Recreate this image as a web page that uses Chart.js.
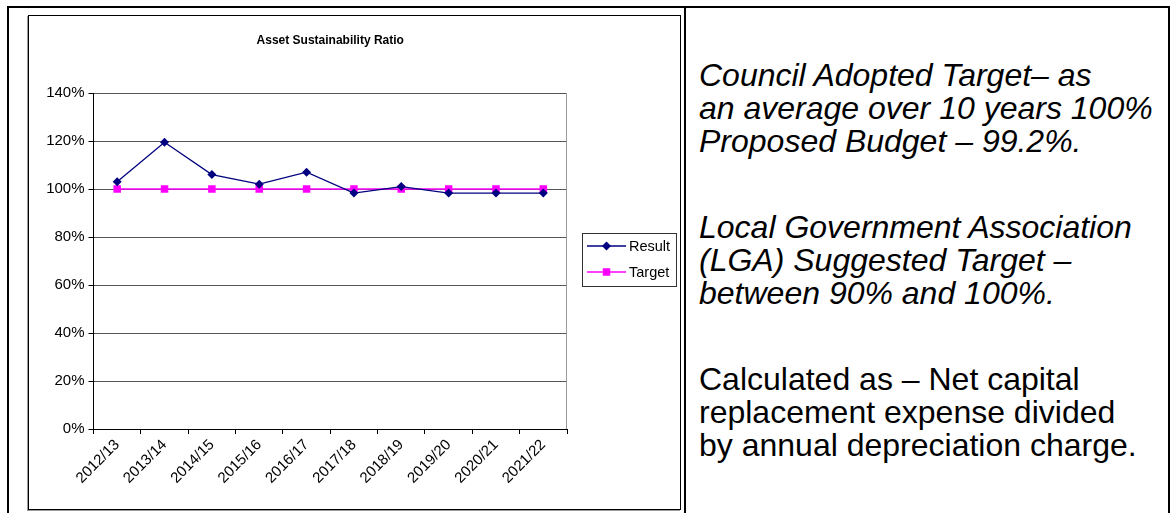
<!DOCTYPE html>
<html><head><meta charset="utf-8">
<script src="https://cdn.jsdelivr.net/npm/chart.js@4/dist/chart.umd.min.js"></script>
<style>
html,body{margin:0;padding:0;background:#fff;width:1171px;height:513px;overflow:hidden;position:relative;font-family:"Liberation Sans",Arial,sans-serif;}
#outer{position:absolute;left:7px;top:6px;width:1159px;height:600px;border:2px solid #000;}
#divider{position:absolute;left:684px;top:6px;width:2px;height:600px;background:#000;}
#box{position:absolute;left:28px;top:15px;width:651px;height:493px;border:1px solid #000;box-shadow:-1px 1px 0 #999;}
#chart{position:absolute;left:0;top:0;}
.p{position:absolute;left:699px;font-size:32px;line-height:33px;color:#000;white-space:nowrap;}
.i{font-style:italic;}
</style></head>
<body>
<div id="outer"></div>
<div id="divider"></div>
<div id="box"><canvas id="chart" width="651" height="493"></canvas></div>
<div class="p i" style="top:59px">Council Adopted Target– as<br>an average over 10 years 100%<br>Proposed Budget – 99.2%.</div>
<div class="p i" style="top:211px">Local Government Association<br>(LGA) Suggested Target –<br>between 90% and 100%.</div>
<div class="p" style="top:363px">Calculated as – Net capital<br>replacement expense divided<br>by annual depreciation charge.</div>
<script>
const categories = ['2012/13','2013/14','2014/15','2015/16','2016/17','2017/18','2018/19','2019/20','2020/21','2021/22'];
const resultValues = [103, 119.5, 106, 102, 107, 98.3, 101, 98.3, 98.3, 98.3];
const targetValues = [100, 100, 100, 100, 100, 100, 100, 100, 100, 100];
const seriesNames = ['Result', 'Target'];
const yTickValues = [0, 20, 40, 60, 80, 100, 120, 140];
const chartTitle = 'Asset Sustainability Ratio';

const FONT = '"Liberation Sans", Arial, sans-serif';
const NAVY = '#000080', MAGENTA = '#FF00FF';

const plotFrame = {
  id: 'plotFrame',
  beforeDatasetsDraw(chart) {
    const {ctx, chartArea: a} = chart;
    ctx.save();
    ctx.strokeStyle = '#999';
    ctx.lineWidth = 1;
    ctx.beginPath();
    ctx.moveTo(Math.round(a.right) - 0.5, a.top);
    ctx.lineTo(Math.round(a.right) - 0.5, a.bottom);
    ctx.stroke();
    ctx.restore();
  }
};

const boxLegend = {
  id: 'boxLegend',
  afterDraw(chart) {
    const ctx = chart.ctx;
    ctx.save();
    ctx.strokeStyle = '#333';
    ctx.lineWidth = 1;
    ctx.strokeRect(553.5, 217.5, 94, 53);
    chart.data.datasets.forEach((ds, i) => {
      const y = 230 + i * 26;
      ctx.strokeStyle = ds.borderColor;
      ctx.lineWidth = ds.borderWidth;
      ctx.beginPath();
      ctx.moveTo(558, y); ctx.lineTo(597, y); ctx.stroke();
      ctx.fillStyle = ds.pointBackgroundColor;
      const cx = 577.5;
      ctx.beginPath();
      if (ds.pointStyle === 'rectRot') {
        const r = ds.pointRadius;
        ctx.moveTo(cx, y - r); ctx.lineTo(cx + r, y); ctx.lineTo(cx, y + r); ctx.lineTo(cx - r, y); ctx.closePath();
      } else {
        const s = ds.pointRadius * Math.SQRT1_2;
        ctx.rect(cx - s, y - s, 2 * s, 2 * s);
      }
      ctx.fill();
      ctx.fillStyle = '#000';
      ctx.font = '14.5px ' + FONT;
      ctx.textBaseline = 'middle';
      ctx.textAlign = 'left';
      ctx.fillText(ds.label, 600, y + 0.5);
    });
    ctx.restore();
  }
};

new Chart(document.getElementById('chart'), {
  type: 'line',
  data: {
    labels: categories,
    datasets: [
      { label: seriesNames[0], data: resultValues, borderColor: NAVY, backgroundColor: NAVY,
        pointBackgroundColor: NAVY, pointBorderColor: NAVY, pointStyle: 'rectRot', pointRadius: 4.5,
        pointBorderWidth: 0, borderWidth: 1.3, tension: 0, fill: false },
      { label: seriesNames[1], data: targetValues, borderColor: MAGENTA, backgroundColor: MAGENTA,
        pointBackgroundColor: MAGENTA, pointBorderColor: MAGENTA, pointStyle: 'rect', pointRadius: 5.3,
        pointBorderWidth: 0, borderWidth: 1.5, tension: 0, fill: false }
    ]
  },
  options: {
    responsive: false,
    animation: false,
    events: [],
    layout: { padding: { left: 0, right: 113, top: 0, bottom: 0 } },
    plugins: {
      legend: { display: false },
      tooltip: { enabled: false },
      title: { display: true, fullSize: false, text: chartTitle, color: '#000',
        font: { family: FONT, size: 12, weight: 'bold' }, padding: { top: 17, bottom: 45.6 } }
    },
    scales: {
      x: {
        type: 'category', offset: true,
        grid: { offset: true, drawOnChartArea: false, drawTicks: true, tickLength: 5, tickColor: '#000' },
        border: { color: '#000', width: 1 },
        ticks: { color: '#000', font: { family: FONT, size: 15 }, maxRotation: 45, minRotation: 45, autoSkip: false, padding: 2 },
        afterFit(s) { s.height = 80; }
      },
      y: {
        min: 0, max: 140,
        afterBuildTicks(s) { s.ticks = yTickValues.map(v => ({ value: v })); },
        ticks: { callback: v => v + '%', color: '#000', font: { family: FONT, size: 15 }, padding: 4 },
        grid: { color: '#555', tickColor: '#000', tickLength: 5 },
        border: { color: '#000', width: 1 },
        afterFit(s) { s.width = 64.5; }
      }
    }
  },
  plugins: [plotFrame, boxLegend]
});
</script>
</body></html>
